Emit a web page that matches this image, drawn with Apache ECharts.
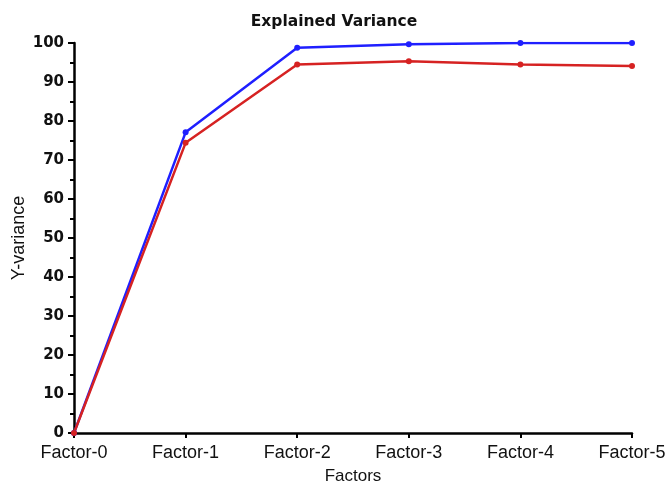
<!DOCTYPE html>
<html><head><meta charset="utf-8">
<script src="https://cdn.jsdelivr.net/npm/echarts@6/dist/echarts.min.js"></script>
<style>html,body{margin:0;padding:0;background:#fff}#c{width:668px;height:485px}</style>
</head><body><div id="c"></div>
<script>
const categories = ['Factor-0','Factor-1','Factor-2','Factor-3','Factor-4','Factor-5'];
const blueValues = [0, 77.1, 98.8, 99.7, 100, 100];
const redValues = [0, 74.4, 94.5, 95.3, 94.5, 94.1];
const chart = echarts.init(document.getElementById('c'));
const font = 'Liberation Sans, Arial, sans-serif';
const boldFont = 'DejaVu Sans, sans-serif';
chart.setOption({
  animation: false,
  title: {text: 'Explained Variance', left: 'center', top: 9, textStyle: {fontFamily: boldFont, fontSize: 15.5, fontWeight: 'bold', color: '#111'}},
  grid: {left: 74, right: 36, top: 43, bottom: 52, outerBoundsMode: 'none', containLabel: false},
  xAxis: {
    type: 'category', data: categories, boundaryGap: false,
    name: 'Factors', nameLocation: 'middle', nameGap: 35, nameMoveOverlap: false,
    nameTextStyle: {fontFamily: font, fontSize: 17, color: '#111'},
    axisLine: {lineStyle: {color: '#000', width: 2.5}},
    axisTick: {show: true, length: 5, lineStyle: {color: '#000', width: 2}},
    axisLabel: {fontFamily: font, fontSize: 18, color: '#111', margin: 11, interval: 0}
  },
  yAxis: {
    type: 'value', min: 0, max: 100, interval: 10,
    name: 'Y-variance', nameLocation: 'middle', nameGap: 46, nameMoveOverlap: false,
    nameTextStyle: {fontFamily: font, fontSize: 18, color: '#111'},
    axisLine: {show: true, lineStyle: {color: '#000', width: 2.5}},
    axisTick: {show: true, length: 6, lineStyle: {color: '#000', width: 2}},
    minorTick: {show: true, splitNumber: 2, length: 4, lineStyle: {color: '#000', width: 2}},
    splitLine: {show: false},
    axisLabel: {fontFamily: boldFont, fontSize: 15, fontWeight: 'bold', color: '#111', margin: 10}
  },
  series: [
    {type: 'line', data: blueValues, symbol: 'circle', symbolSize: 6, itemStyle: {color: '#1f1fff'}, lineStyle: {color: '#1f1fff', width: 2.5}},
    {type: 'line', data: redValues, symbol: 'circle', symbolSize: 6, itemStyle: {color: '#d62222'}, lineStyle: {color: '#d62222', width: 2.5}}
  ]
});
</script></body></html>
